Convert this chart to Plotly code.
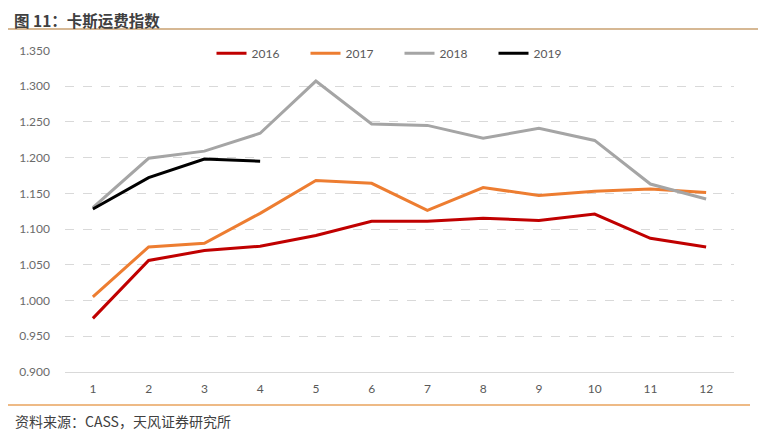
import plotly.graph_objects as go

months = [1, 2, 3, 4, 5, 6, 7, 8, 9, 10, 11, 12]
month_labels = [str(m) for m in months]
v2016 = [0.975, 1.056, 1.070, 1.076, 1.091, 1.111, 1.111, 1.115, 1.112, 1.121, 1.087, 1.075]
v2017 = [1.005, 1.075, 1.080, 1.122, 1.168, 1.164, 1.126, 1.158, 1.147, 1.153, 1.156, 1.151]
v2018 = [1.130, 1.199, 1.209, 1.234, 1.307, 1.247, 1.245, 1.227, 1.241, 1.224, 1.163, 1.142]
v2019 = [1.128, 1.172, 1.198, 1.195]
y_ticks = [0.90, 0.95, 1.00, 1.05, 1.10, 1.15, 1.20, 1.25, 1.30, 1.35]

series = [
    ("2016", v2016, "#C00000"),
    ("2017", v2017, "#ED7D31"),
    ("2018", v2018, "#A5A5A5"),
    ("2019", v2019, "#000000"),
]

fig = go.Figure()
for name, vals, color in series:
    fig.add_trace(go.Scatter(
        x=month_labels[:len(vals)], y=vals, name=name, mode="lines",
        line=dict(color=color, width=3),
    ))

# page body has an 8px margin, so the figure is shifted up/left by 8px
fig.update_layout(
    width=766, height=438,
    margin=dict(l=57, r=40, t=42, b=74, autoexpand=False),
    paper_bgcolor="white", plot_bgcolor="white",
    font=dict(family="Lato, Noto Sans CJK SC, sans-serif", size=12, color="#595959"),
    showlegend=True,
    legend=dict(orientation="h", x=0.5, xanchor="center", y=0.99, yanchor="middle",
                bgcolor="rgba(255,255,255,0)", font=dict(size=12, color="#595959"),
                tracegroupgap=0, entrywidth=49),
    xaxis=dict(type="category", range=[-0.5, 11.5], showgrid=False, showline=True,
               linecolor="#D9D9D9", linewidth=1, ticks="",
               tickfont=dict(size=12, color="#595959"), ticklabelstandoff=6),
    yaxis=dict(range=[0.9, 1.3505], tickvals=y_ticks, tickformat=".3f",
               showgrid=True, gridcolor="#D9D9D9", griddash="dash", gridwidth=1,
               zeroline=False, showline=False, ticks="",
               tickfont=dict(size=12, color="#6b6b6b"), ticklabelstandoff=14),
)

fig.add_annotation(text="<b>图 11：卡斯运费指数</b>", xref="paper", yref="paper",
                   x=-52/669, y=1 + 42/322, xanchor="left", yanchor="top",
                   showarrow=False, borderpad=0,
                   font=dict(family="Noto Sans CJK SC", size=15.5, color="#404040"))
fig.add_annotation(text="资料来源：CASS，天风证券研究所", xref="paper", yref="paper",
                   x=-52/669, y=-49/322, xanchor="left", yanchor="middle",
                   showarrow=False,
                   font=dict(family="Noto Sans CJK SC", size=14, color="#404040"))
fig.add_shape(type="line", xref="paper", yref="paper", x0=-65/669, x1=1 + 32/669,
              y0=1 + 21/322, y1=1 + 21/322, line=dict(color="#C9A070", width=1.5))
fig.add_shape(type="line", xref="paper", yref="paper", x0=-65/669, x1=1 + 16/669,
              y0=-33/322, y1=-33/322, line=dict(color="#E8A35E", width=1.5))

fig.write_html("out.html")
